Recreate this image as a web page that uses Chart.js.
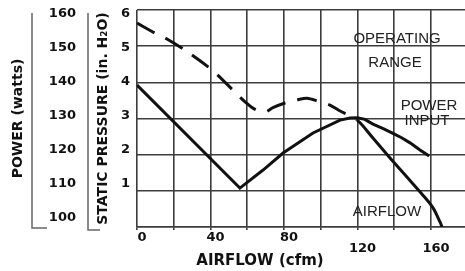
<!DOCTYPE html>
<html>
<head>
<meta charset="utf-8">
<script src="https://cdn.jsdelivr.net/npm/chart.js@4.4.1/dist/chart.umd.min.js"></script>
<style>
  html, body { margin: 0; padding: 0; background: #fff; }
  #wrap { width: 465px; height: 271px; }
</style>
</head>
<body>
<div id="wrap"><canvas id="fanChart" width="465" height="271"></canvas></div>
<script>
// static pressure curve (in. H2O) against airflow (cfm)
const pressureCfm  = [0, 9.8, 16.3, 26.1, 40.8, 53.3, 58.8, 64, 69.7, 74, 80.5, 87.6, 92.5, 98.5, 105, 110, 119.7, 128.4, 137.7, 146.9, 155.6, 161.1, 164.9, 166];
const pressureVals = [5.64, 5.36, 5.2, 4.89, 4.34, 3.73, 3.46, 3.26, 3.18, 3.3, 3.43, 3.52, 3.56, 3.48, 3.37, 3.22, 2.96, 2.46, 1.91, 1.38, 0.88, 0.53, 0.14, 0];

// power input (watts) against airflow (cfm)
const powerCfm  = [0, 56, 68.6, 79.5, 95.8, 110.5, 116, 120, 124, 128.4, 134, 139.3, 144, 148.6, 154, 159];
const powerVals = [139.1, 108.8, 114.1, 119.1, 125, 128.8, 129.4, 129.5, 129, 127.6, 126.3, 124.9, 123.6, 122.1, 120, 118.2];

const xTicks        = [0, 20, 40, 60, 80, 100, 120, 140, 160];
const xLabelled     = [0, 40, 80, 120, 160];
const gridTicks     = [0, 1, 2, 3, 4, 5, 6];
const pressureTicks = [1, 2, 3, 4, 5, 6];
const powerTicks    = [100, 110, 120, 130, 140, 150, 160];

const notes = [
  { text: "OPERATING", x: 141.5, y: 5.2 },
  { text: "RANGE",     x: 140.4, y: 4.53 },
  { text: "POWER",     x: 158.9, y: 3.35 },
  { text: "INPUT",     x: 157.8, y: 2.93 },
  { text: "AIRFLOW",   x: 136,   y: 0.41 }
];

const ink = "#111";
const gridColor = "#3c3c3c";
const tickFont  = { family: "'DejaVu Sans', sans-serif", size: 13, weight: "bold" };
const titleFont = { family: "'DejaVu Sans', sans-serif", size: 14, weight: "bold" };

const toPoints = (xs, ys) => xs.map((x, i) => ({ x: x, y: ys[i] }));
const fixTicks = list => scale => { scale.ticks = list.map(v => ({ value: v })); };
// fixed axis width, and no extra room asked for above/below the plot
const fixWidth = w => scale => { scale.width = w; scale.paddingTop = 0; scale.paddingBottom = 0; };

// brackets beside the y titles, curve labels and the x title
const decorations = {
  id: "decorations",
  afterDatasetsDraw(chart) {
    const { ctx, scales } = chart;
    ctx.save();
    ctx.strokeStyle = "#666";
    ctx.lineWidth = 1.5;
    ctx.beginPath();
    ctx.moveTo(32, 13); ctx.lineTo(32, 228); ctx.lineTo(47, 228);
    ctx.moveTo(88, 13); ctx.lineTo(88, 230); ctx.lineTo(100, 230);
    ctx.stroke();

    ctx.font = "15px 'Liberation Sans', Arial, sans-serif";
    ctx.fillStyle = "#222";
    ctx.textAlign = "center";
    ctx.textBaseline = "middle";
    notes.forEach(n => {
      ctx.fillText(n.text, scales.x.getPixelForValue(n.x), scales.y.getPixelForValue(n.y));
    });

    ctx.font = "bold 15px 'DejaVu Sans', sans-serif";
    ctx.fillStyle = ink;
    ctx.fillText("AIRFLOW (cfm)", 260, 261);
    ctx.restore();
  }
};

const ctx = document.getElementById("fanChart").getContext("2d");
new Chart(ctx, {
  type: "line",
  data: {
    datasets: [
      {
        label: "Static pressure",
        data: toPoints(pressureCfm, pressureVals),
        yAxisID: "y",
        borderColor: ink,
        borderWidth: 3,
        pointRadius: 0,
        tension: 0.3,
        fill: false,
        segment: {
          borderDash: c => c.p1.parsed.x <= 120 ? [20, 12] : []
        }
      },
      {
        label: "Power input",
        data: toPoints(powerCfm, powerVals),
        yAxisID: "yPow",
        borderColor: ink,
        borderWidth: 3,
        pointRadius: 0,
        tension: 0,
        fill: false
      }
    ]
  },
  options: {
    responsive: false,
    animation: false,
    layout: { padding: { top: 10, right: 0, bottom: 0, left: 0 } },
    plugins: {
      legend: { display: false },
      tooltip: { enabled: false }
    },
    scales: {
      x: {
        type: "linear",
        min: 0,
        max: 178.5,
        afterBuildTicks: fixTicks(xTicks),
        afterFit: s => { s.height = 44; },
        grid: { color: gridColor, lineWidth: 1.6, tickLength: 3 },
        border: { color: gridColor, width: 1.6 },
        ticks: {
          autoSkip: false,
          maxRotation: 0,
          padding: 2,
          labelOffset: 5,
          color: ink,
          font: Object.assign({}, tickFont, { lineHeight: 0.85 }),
          callback: v => xLabelled.includes(v) ? (v >= 120 ? ["", String(v)] : String(v)) : ""
        }
      },
      y: {
        position: "left",
        weight: 0,
        min: 0,
        max: 6,
        afterBuildTicks: fixTicks(gridTicks),
        afterFit: fixWidth(0),
        grid: { color: gridColor, lineWidth: 1.6, drawTicks: false },
        border: { display: false },
        ticks: { display: false }
      },
      yPre: {
        position: "left",
        weight: 1,
        min: -0.265,
        max: 6.118,
        afterBuildTicks: fixTicks(pressureTicks),
        afterFit: fixWidth(57),
        grid: { display: false, drawTicks: false },
        border: { display: false },
        ticks: { padding: 7, color: ink, font: tickFont },
        title: {
          display: true,
          text: "STATIC PRESSURE (in. H\u2082O)",
          color: ink,
          font: titleFont,
          padding: { top: 15, bottom: 0 }
        }
      },
      yPow: {
        position: "left",
        weight: 2,
        min: 97.35,
        max: 161.18,
        afterBuildTicks: fixTicks(powerTicks),
        afterFit: fixWidth(80),
        grid: { display: false, drawTicks: false },
        border: { display: false },
        ticks: { padding: 4, color: ink, font: tickFont },
        title: {
          display: true,
          text: "POWER (watts)",
          color: ink,
          font: titleFont,
          padding: { top: 10, bottom: 0 }
        }
      }
    }
  },
  plugins: [decorations]
});
</script>
</body>
</html>
